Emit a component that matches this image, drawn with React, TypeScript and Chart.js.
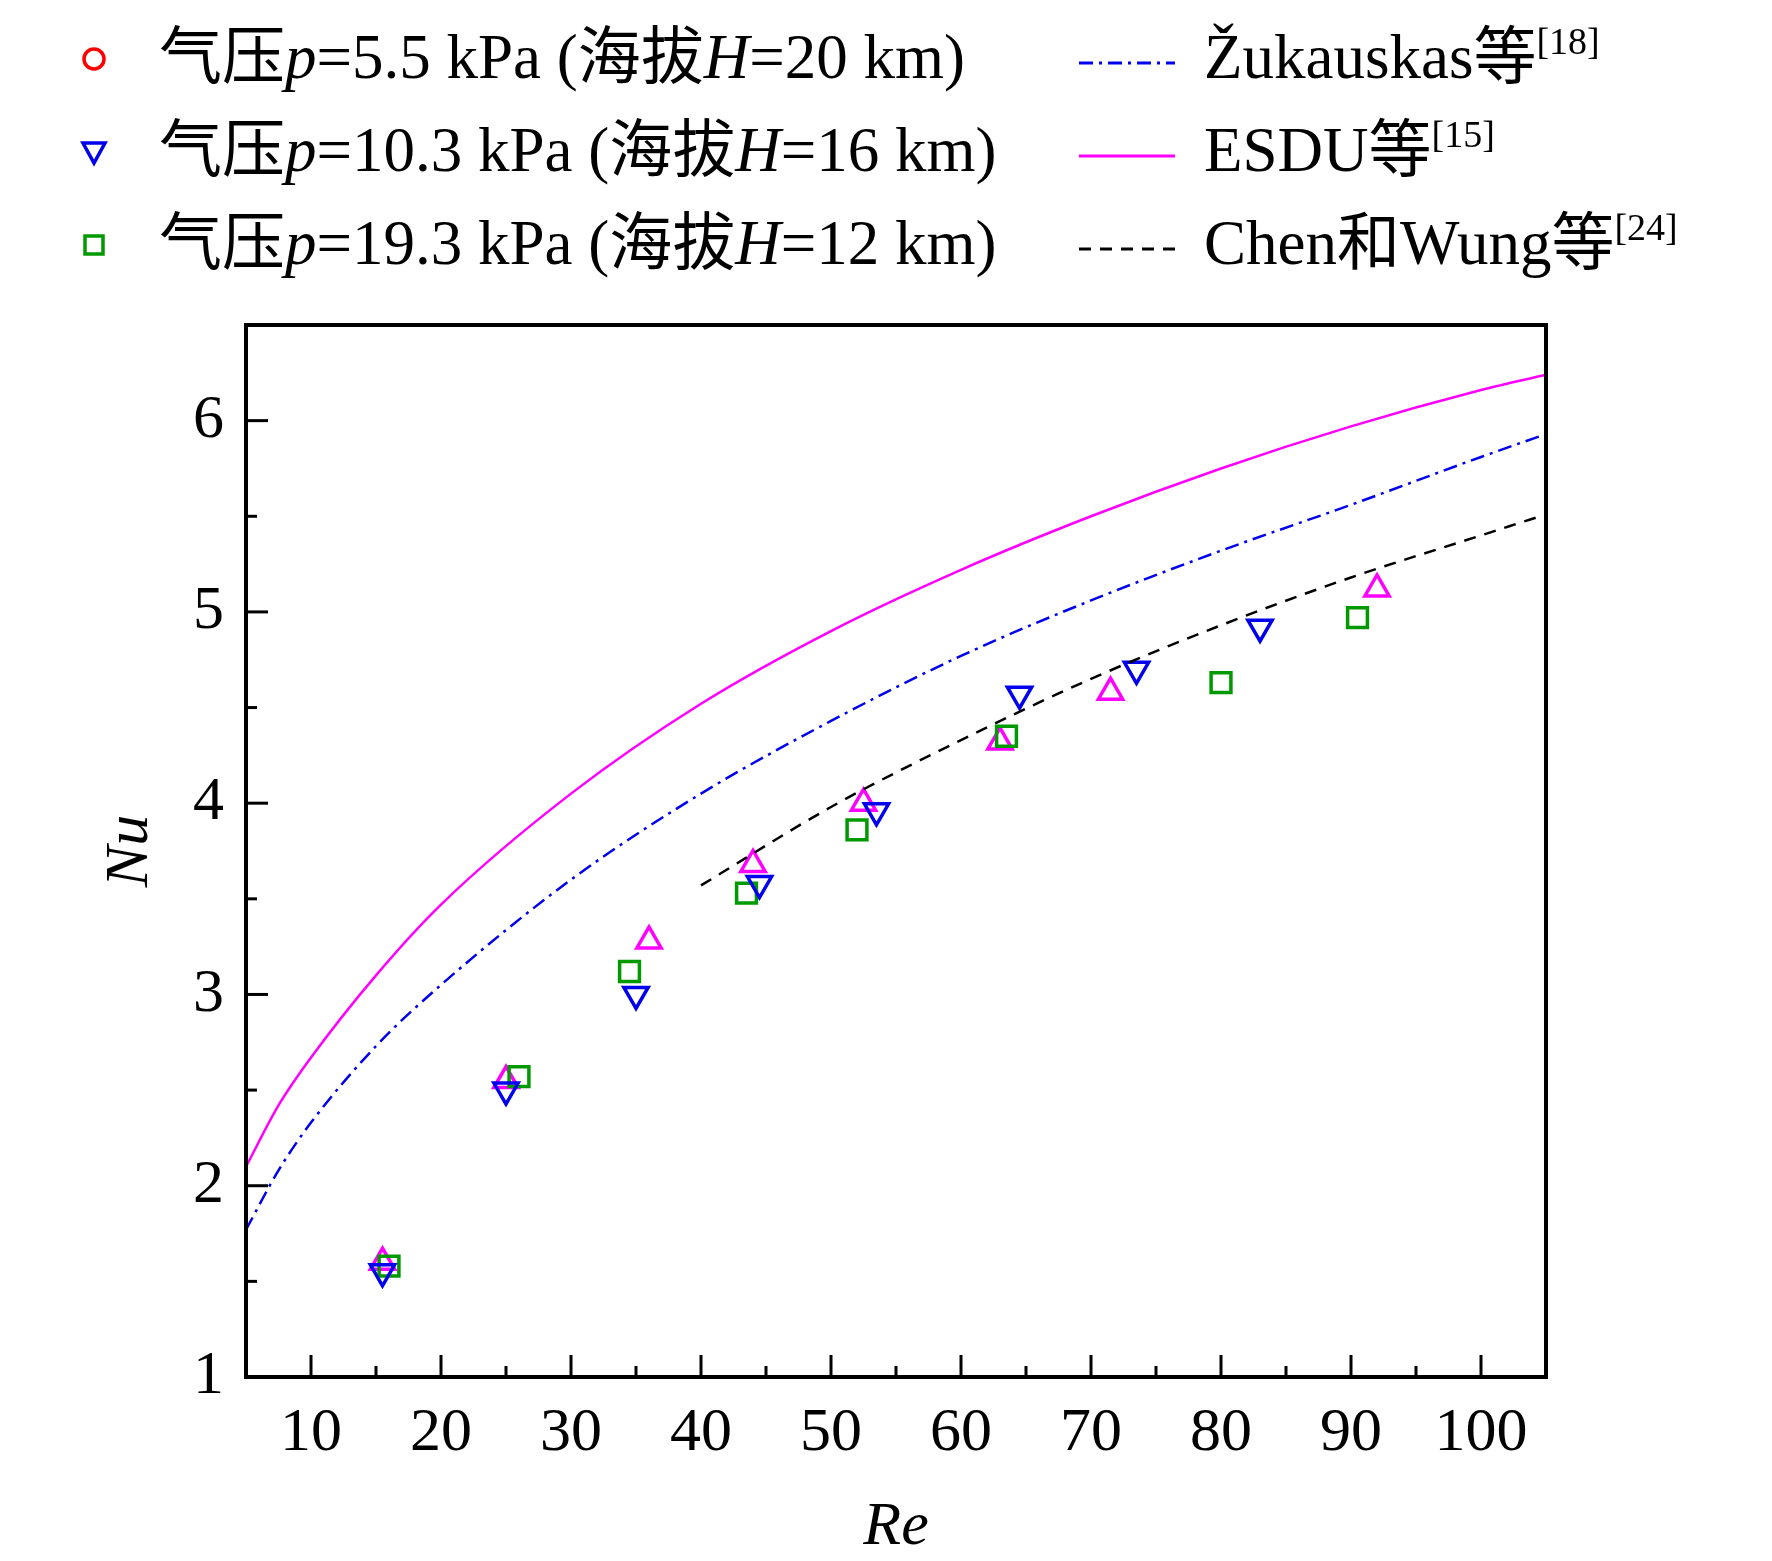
import React, { useEffect, useRef } from "react";
import { Chart, registerables } from "chart.js";
Chart.register(...registerables);

const circleData: { x: number; y: number }[] = [];
const triDownX = [15.5, 25, 35, 44.5, 53.5, 64.5, 73.5, 83];
const triDownY = [1.55, 2.5, 3.0, 3.58, 3.96, 4.57, 4.7, 4.92];
const squareX = [16, 26, 34.5, 43.5, 52, 63.5, 80, 90.5];
const squareY = [1.58, 2.57, 3.12, 3.53, 3.86, 4.35, 4.63, 4.97];
const triUpX = [15.5, 25, 36, 44, 52.5, 63, 71.5, 92];
const triUpY = [1.6, 2.55, 3.28, 3.68, 4.0, 4.32, 4.58, 5.12];
const curveRe = [5, 7.5, 10, 15, 20, 30, 40, 50, 60, 70, 80, 90, 100, 105];
const esduNu = [2.1, 2.42, 2.67, 3.1, 3.47, 4.05, 4.52, 4.9, 5.22, 5.5, 5.75, 5.97, 6.16, 6.24];
const zukNu = [1.77, 2.08, 2.33, 2.73, 3.05, 3.6, 4.05, 4.43, 4.77, 5.06, 5.32, 5.56, 5.81, 5.93];
const chenRe = [40, 50, 60, 70, 80, 90, 100, 105];
const chenNu = [3.57, 3.98, 4.33, 4.65, 4.93, 5.18, 5.4, 5.51];
const xTicks = [10, 20, 30, 40, 50, 60, 70, 80, 90, 100];
const yTicks = [1, 2, 3, 4, 5, 6];

const zip = (xs: number[], ys: number[]) => xs.map((x, i) => ({ x, y: ys[i] }));
const FONT = "'Liberation Serif', 'Noto Sans CJK SC', serif";

const frame = {
  id: "frame",
  afterDraw(chart: any) {
    const { ctx, chartArea: a, scales } = chart;
    const xs = scales.x, ys = scales.y;
    ctx.save();
    ctx.strokeStyle = "#000";
    ctx.lineWidth = 4;
    ctx.strokeRect(a.left, a.top, a.right - a.left, a.bottom - a.top);
    ctx.lineWidth = 3;
    for (let v = 10; v <= 105; v += 5) {
      const px = xs.getPixelForValue(v);
      const len = v % 10 === 0 ? 22 : 11;
      ctx.beginPath(); ctx.moveTo(px, a.bottom); ctx.lineTo(px, a.bottom - len); ctx.stroke();
    }
    for (let v = 1.5; v <= 6.5; v += 0.5) {
      const py = ys.getPixelForValue(v);
      const len = Number.isInteger(v) ? 22 : 11;
      ctx.beginPath(); ctx.moveTo(a.left, py); ctx.lineTo(a.left + len, py); ctx.stroke();
    }
    ctx.fillStyle = "#000";
    ctx.font = `italic 62px ${FONT}`;
    ctx.textAlign = "center";
    ctx.textBaseline = "middle";
    ctx.fillText("Re", (a.left + a.right) / 2, 1528);
    ctx.translate(131, (a.top + a.bottom) / 2);
    ctx.rotate(-Math.PI / 2);
    ctx.fillText("Nu", 0, 0);
    ctx.restore();
  },
};

export default function App() {
  const ref = useRef<HTMLCanvasElement>(null);
  useEffect(() => {
    document.body.style.margin = "0";
    const mk = (label: string, data: any, color: string, style: string, rot = 0) => ({
      label, data, type: "scatter" as const, showLine: false, pointStyle: style, rotation: rot,
      pointRadius: 14, borderColor: color, backgroundColor: "transparent", pointBorderWidth: 3.5,
    });
    const ln = (label: string, data: any, color: string, dash: number[]) => ({
      label, data, type: "line" as const, borderColor: color, borderWidth: 2.5, borderDash: dash,
      pointRadius: 0, cubicInterpolationMode: "monotone", fill: false,
    });
    const chart = new Chart(ref.current!, {
      type: "scatter",
      data: {
        datasets: [
          ln("ESDU", zip(curveRe, esduNu), "#ff00ff", []),
          ln("Zukauskas", zip(curveRe, zukNu), "#0000ee", [14, 6, 3, 6]),
          ln("Chen", zip(chenRe, chenNu), "#000", [12, 9]),
          mk("5.5", circleData, "#ff0000", "circle"),
          mk("10.3", zip(triDownX, triDownY), "#0000ee", "triangle", 180),
          mk("19.3", zip(squareX, squareY), "#009900", "rect"),
          mk("x", zip(triUpX, triUpY), "#ff00ff", "triangle"),
        ] as any,
      },
      options: {
        animation: false,
        responsive: false,
        devicePixelRatio: 1,
        layout: { padding: { top: 325, right: 226, left: 0, bottom: 0 } },
        plugins: { legend: { display: false }, tooltip: { enabled: false } },
        scales: {
          x: {
            type: "linear", min: 5, max: 105,
            afterBuildTicks: (s: any) => { s.ticks = xTicks.map((v) => ({ value: v })); },
            afterFit: (s: any) => { s.height = 184; },
            grid: { display: false, drawTicks: false },
            border: { display: false },
            ticks: { color: "#000", font: { family: FONT, size: 62 }, padding: 20, maxRotation: 0 },
          },
          y: {
            type: "linear", min: 1, max: 6.5,
            afterBuildTicks: (s: any) => { s.ticks = yTicks.map((v) => ({ value: v })); },
            afterFit: (s: any) => { s.width = 246; },
            grid: { display: false, drawTicks: false },
            border: { display: false },
            ticks: { color: "#000", font: { family: FONT, size: 62 }, padding: 22 },
          },
        },
      },
      plugins: [frame],
    });
    return () => chart.destroy();
  }, []);

  const txt: React.CSSProperties = { fontFamily: FONT, fontSize: 63, color: "#000", whiteSpace: "nowrap", lineHeight: "72px" };
  const sup: React.CSSProperties = { fontSize: 38, verticalAlign: "top", lineHeight: "40px" };
  const sym = (kind: string, color: string) => (
    <svg width={30} height={30} viewBox="0 0 30 30">
      {kind === "c" && <circle cx={15} cy={15} r={10} fill="none" stroke={color} strokeWidth={3.5} />}
      {kind === "t" && <polygon points="4,6 26,6 15,26" fill="none" stroke={color} strokeWidth={3.5} />}
      {kind === "s" && <rect x={6} y={6} width={18} height={18} fill="none" stroke={color} strokeWidth={3.5} />}
    </svg>
  );
  const lineSym = (color: string, dash: string) => (
    <svg width={96} height={10}><line x1={0} y1={5} x2={96} y2={5} stroke={color} strokeWidth={3} strokeDasharray={dash} /></svg>
  );
  const left = (y: number, k: string, c: string, p: string, h: string) => (
    <>
      <div style={{ position: "absolute", left: 79, top: y - 15 }}>{sym(k, c)}</div>
      <div style={{ position: "absolute", left: 159, top: y - 38, ...txt }}>
        气压<i>p</i>={p} kPa (海拔<i>H</i>={h} km)
      </div>
    </>
  );
  const right = (y: number, c: string, dash: string, label: React.ReactNode) => (
    <>
      <div style={{ position: "absolute", left: 1079, top: y - 5 }}>{lineSym(c, dash)}</div>
      <div style={{ position: "absolute", left: 1204, top: y - 38, ...txt }}>{label}</div>
    </>
  );
  return (
    <div style={{ position: "relative", width: 1772, height: 1561, background: "#fff" }}>
      <canvas ref={ref} width={1772} height={1561} style={{ position: "absolute", left: 0, top: 0 }} />
      {left(59, "c", "#ff0000", "5.5", "20")}
      {left(152, "t", "#0000ee", "10.3", "16")}
      {left(245, "s", "#009900", "19.3", "12")}
      {right(59, "#0000ee", "14 6 3 6", <>Žukauskas等<span style={sup}>[18]</span></>)}
      {right(152, "#ff00ff", "", <>ESDU等<span style={sup}>[15]</span></>)}
      {right(245, "#000", "12 9", <>Chen和Wung等<span style={sup}>[24]</span></>)}
    </div>
  );
}
